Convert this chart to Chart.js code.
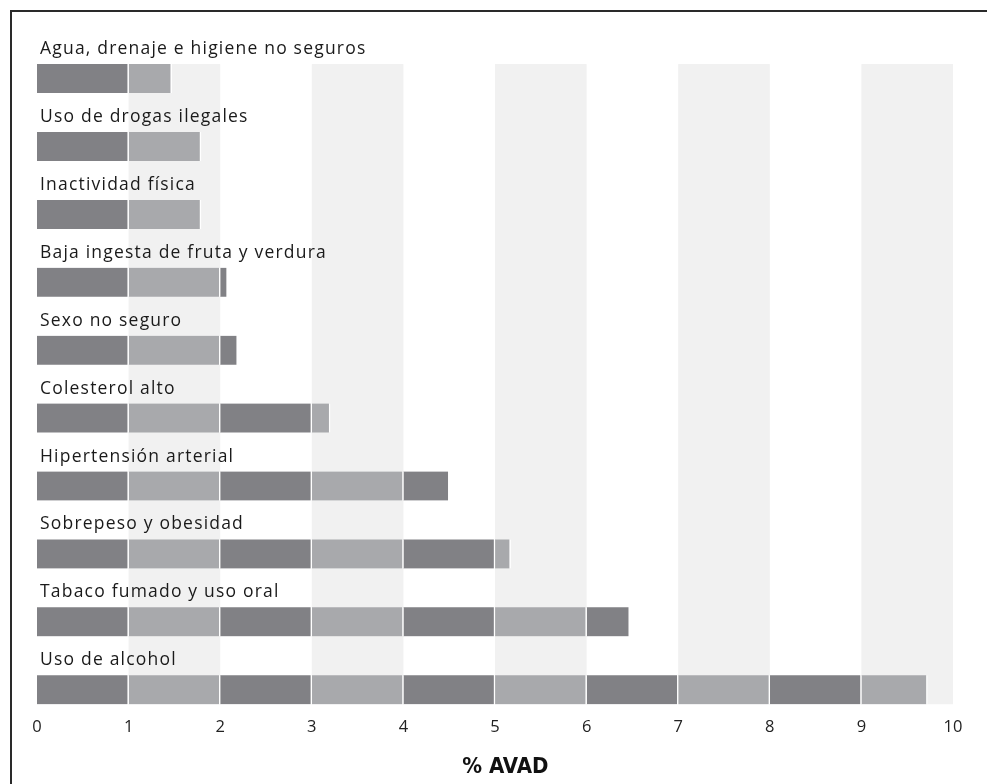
<!DOCTYPE html>
<html lang="es">
<head>
    <meta charset="UTF-8">
    <title>% AVAD por factor de riesgo</title>
    <script src="https://cdn.jsdelivr.net/npm/chart.js"></script>
    <style>
        body { margin: 0; background: #fff; }
        #wrap { position: relative; width: 987px; height: 784px; }
        #frame { position: absolute; left: 10px; top: 10px; right: 0; bottom: 0;
                 border-left: 2px solid #2a2a2a; border-top: 2px solid #2a2a2a; }
        canvas { position: absolute; left: 0; top: 0; }
    </style>
</head>
<body>
<div id="wrap">
    <div id="frame"></div>
    <canvas id="avadChart" width="987" height="784"></canvas>
</div>

<script>
    const categories = [
        'Agua, drenaje e higiene no seguros',
        'Uso de drogas ilegales',
        'Inactividad física',
        'Baja ingesta de fruta y verdura',
        'Sexo no seguro',
        'Colesterol alto',
        'Hipertensión arterial',
        'Sobrepeso y obesidad',
        'Tabaco fumado y uso oral',
        'Uso de alcohol'
    ];
    const avad = [1.47, 1.79, 1.79, 2.08, 2.19, 3.2, 4.5, 5.17, 6.47, 9.72];
    const xTicks = [0, 1, 2, 3, 4, 5, 6, 7, 8, 9, 10];
    const stripes = [[1, 2], [3, 4], [5, 6], [7, 8], [9, 10]];

    const DARK = '#818185';
    const LIGHT = '#a8a9ac';
    const STRIPE = '#f1f1f1';
    const BAR_H = 29;
    const FONT = '"Open Sans", "Noto Sans", sans-serif';

    // one dataset per unit segment, so each bar shows alternating blocks
    const segments = [];
    for (let k = 0; k < 10; k++) {
        const pts = [];
        avad.forEach((v, i) => {
            if (v > k) pts.push({ x: [k, Math.min(v, k + 1)], y: i });
        });
        segments.push({
            data: pts,
            backgroundColor: k % 2 === 0 ? DARK : LIGHT,
            borderColor: '#fff',
            borderWidth: { left: 0, right: 1.5, top: 0, bottom: 0 },
            borderSkipped: false,
            barThickness: BAR_H,
            grouped: false
        });
    }

    const stripePlugin = {
        id: 'stripes',
        beforeDatasetsDraw(chart) {
            const { ctx, scales: { x, y } } = chart;
            const top = y.getPixelForValue(0) - BAR_H / 2;
            const bottom = y.getPixelForValue(categories.length - 1) + BAR_H / 2;
            ctx.save();
            ctx.fillStyle = STRIPE;
            stripes.forEach(([a, b]) => {
                const x0 = x.getPixelForValue(a), x1 = x.getPixelForValue(b);
                ctx.fillRect(x0, top, x1 - x0, bottom - top);
            });
            ctx.restore();
        }
    };

    const labelPlugin = {
        id: 'catLabels',
        afterDatasetsDraw(chart) {
            const { ctx, scales: { x, y } } = chart;
            ctx.save();
            ctx.font = '17.5px ' + FONT;
            ctx.letterSpacing = '1.2px';
            ctx.fillStyle = '#1a1a1a';
            ctx.textBaseline = 'alphabetic';
            categories.forEach((c, i) => {
                const yy = y.getPixelForValue(i) - BAR_H / 2 - 10;
                ctx.fillText(c, x.getPixelForValue(0) + 3, yy);
            });
            ctx.restore();
        }
    };

    new Chart(document.getElementById('avadChart'), {
        type: 'bar',
        data: { datasets: segments },
        plugins: [stripePlugin, labelPlugin],
        options: {
            indexAxis: 'y',
            responsive: false,
            animation: false,
            layout: { padding: { left: 37, right: 34, top: 20, bottom: 4 } },
            plugins: { legend: { display: false }, tooltip: { enabled: false } },
            scales: {
                x: {
                    type: 'linear',
                    min: 0,
                    max: 10,
                    afterBuildTicks: s => { s.ticks = xTicks.map(v => ({ value: v })); },
                    grid: { display: false, drawTicks: false },
                    border: { display: false },
                    ticks: { padding: 7, color: '#222', font: { family: FONT, size: 16.5 } },
                    title: {
                        display: true,
                        text: '   % AVAD',
                        color: '#111',
                        padding: { top: 9, bottom: 0 },
                        font: { family: '"Liberation Sans Narrow", "DejaVu Sans Condensed", sans-serif', size: 22, weight: 'bold' }
                    }
                },
                y: {
                    type: 'linear',
                    reverse: true,
                    offset: false,
                    bounds: 'data',
                    grace: 0,
                    min: -0.8625,
                    max: 9.31,
                    display: false
                }
            }
        }
    });
</script>
</body>
</html>
